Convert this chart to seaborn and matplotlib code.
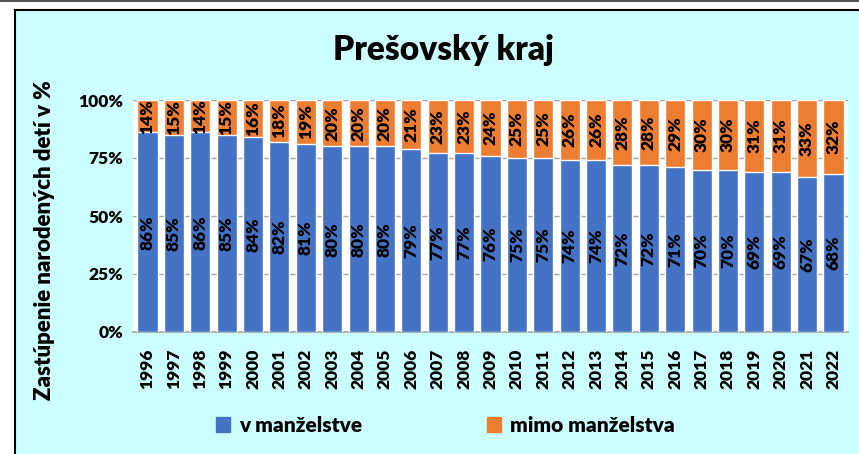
import pandas as pd
import matplotlib.pyplot as plt
import matplotlib.patches as mpatches
from matplotlib.lines import Line2D
import seaborn as sns

years = [str(y) for y in range(1996, 2023)]
v_manzelstve = [86, 85, 86, 85, 84, 82, 81, 80, 80, 80, 79, 77, 77, 76, 75,
                75, 74, 74, 72, 72, 71, 70, 70, 69, 69, 67, 68]
mimo_manzelstva = [14, 15, 14, 15, 16, 18, 19, 20, 20, 20, 21, 23, 23, 24, 25,
                   25, 26, 26, 28, 28, 29, 30, 30, 31, 31, 33, 32]

df = pd.DataFrame({'rok': years, 'v': v_manzelstve, 'mimo': mimo_manzelstva})
df['spolu'] = df['v'] + df['mimo']

sns.set_theme(style="white")
plt.rcParams['font.family'] = ['Lato', 'DejaVu Sans']
plt.rcParams['font.weight'] = 'heavy'
plt.rcParams['text.color'] = 'black'
plt.rcParams['xtick.color'] = 'black'
plt.rcParams['ytick.color'] = 'black'

blue = '#4472C4'
orange = '#ED7D31'
cyan = '#CCFFFF'
w = 'heavy'

fig = plt.figure(figsize=(8.59, 4.54), dpi=100)
fig.patch.set_facecolor('white')
# chart frame (cropped on right and bottom like the screenshot)
fig.patches.append(mpatches.Rectangle((15 / 859, -0.05), 1.0, 1 - 10 / 454 + 0.05,
                                      transform=fig.transFigure, facecolor=cyan,
                                      edgecolor='black', linewidth=1.5, zorder=-10))
fig.lines.append(Line2D([0, 1], [0.998, 0.998], transform=fig.transFigure,
                        color='#555555', linewidth=1.5, zorder=-5))

ax = fig.add_axes([133 / 859, 1 - 332 / 454, (848 - 133) / 859, (332 - 100) / 454])
ax.set_facecolor('white')

sns.barplot(data=df, x='rok', y='spolu', color=orange, width=0.76,
            saturation=1, ax=ax, zorder=2)
sns.barplot(data=df, x='rok', y='v', color=blue, width=0.76,
            saturation=1, ax=ax, zorder=3)

for i, (v, m) in enumerate(zip(df['v'], df['mimo'])):
    ax.text(i, v / 2, f'{v}%', rotation=90, ha='center', va='center',
            fontsize=12.5, fontweight=w, zorder=4)
    ax.text(i, v + m / 2, f'{m}%', rotation=90, ha='center', va='center',
            fontsize=12.5, fontweight=w, zorder=4)

ax.set_ylim(0, 100)
ax.set_xlim(-0.55, len(years) - 0.45)
ax.set_yticks([0, 25, 50, 75, 100])
ax.set_yticklabels(['0%', '25%', '50%', '75%', '100%'], fontsize=12.5, fontweight=w)
ax.set_xticks(range(len(years)))
ax.set_xticklabels(years, rotation=90, fontsize=12.5, fontweight=w)
ax.tick_params(axis='y', length=0, pad=7)
ax.tick_params(axis='x', length=0, pad=12)
ax.yaxis.grid(True, color='#A6A6A6', linewidth=1, zorder=1)
ax.set_axisbelow(True)
for s in ['top', 'right', 'left']:
    ax.spines[s].set_visible(False)
ax.spines['bottom'].set_color('#A6A6A6')
ax.spines['bottom'].set_linewidth(1.2)
ax.set_xlabel('')
ax.set_ylabel('')

fig.text(45 / 859, 1 - 240 / 454, 'Zastúpenie narodených detí v %', rotation=90,
         ha='center', va='center', fontsize=16, fontweight=w)
fig.text(443 / 859, 1 - 50 / 454, 'Prešovský kraj', ha='center', va='center',
         fontsize=24, fontweight=w)

handles = [mpatches.Patch(color=blue, label='v manželstve'),
           mpatches.Patch(color=orange, label='mimo manželstva')]
fig.legend(handles=handles, loc='center', bbox_to_anchor=(445 / 859, 1 - 425 / 454),
           ncol=2, frameon=False, prop={'size': 15, 'weight': w},
           handlelength=0.7, handleheight=0.7, handletextpad=0.4, columnspacing=6.0)

fig.savefig('out.png', dpi=100)
